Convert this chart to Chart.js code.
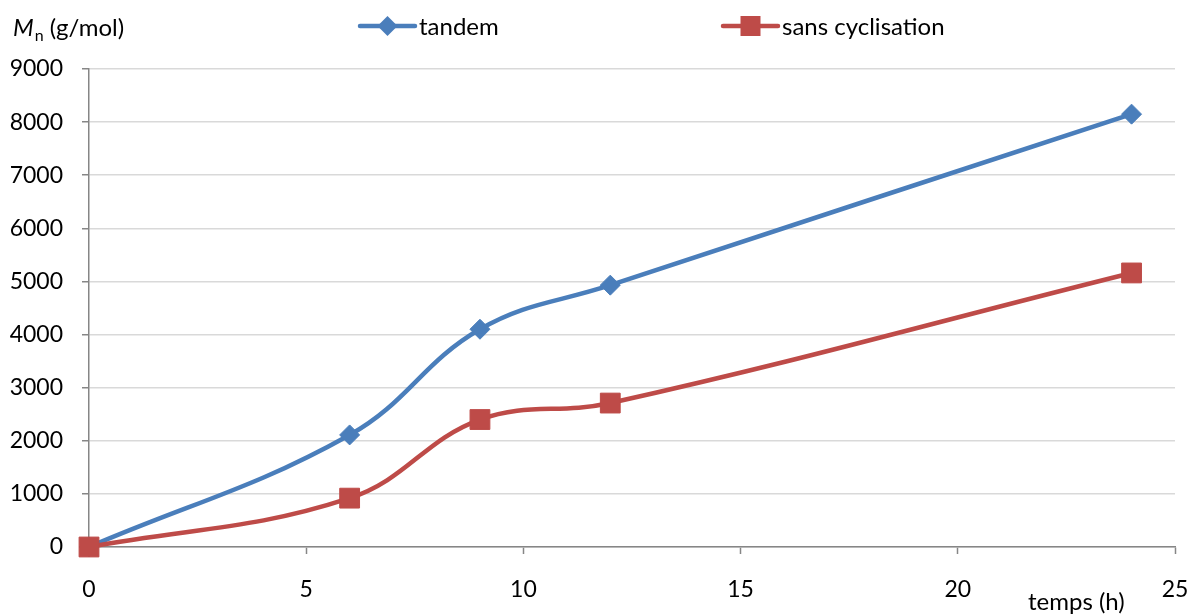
<!DOCTYPE html>
<html>
<head>
<meta charset="utf-8">
<script src="https://cdn.jsdelivr.net/npm/chart.js@4/dist/chart.umd.min.js"></script>
<style>
  html, body { margin: 0; padding: 0; background: #fff; overflow: hidden; }
  #wrap { width: 1193px; height: 615px; position: relative; }
  canvas { display: block; }
</style>
</head>
<body>
<div id="wrap"><canvas id="mnChart"></canvas></div>
<script>
const hours = [0, 6, 9, 12, 24];
const tandem = [0, 2110, 4100, 4930, 8150];
const sansCyclisation = [0, 920, 2400, 2710, 5160];
const seriesNames = ['tandem', 'sans cyclisation'];
const xAxisLabel = 'temps (h)';

const FONT = 'Lato, "Open Sans", sans-serif';
const BLUE = '#4a7ebb';
const RED = '#be4b48';

function toPoints(values) {
    return hours.map((h, i) => ({ x: h, y: values[i] }));
}

// legend, y title and x title are painted by hand
const chartText = {
    id: 'chartText',
    afterDraw(chart) {
        const ctx = chart.ctx;
        ctx.save();
        ctx.fillStyle = '#000';
        ctx.textBaseline = 'alphabetic';

        // M_n (g/mol)
        ctx.font = 'italic 24px ' + FONT;
        ctx.fillText('M', 13, 36);
        let x = 13 + ctx.measureText('M').width + 1;
        ctx.font = '16px ' + FONT;
        ctx.fillText('n', x, 41);
        x += ctx.measureText('n').width + 6;
        ctx.font = '24px ' + FONT;
        ctx.fillText('(g/mol)', x, 36);

        // legend
        const items = [
            { label: seriesNames[0], color: BLUE, x0: 360, x1: 415, style: 'diamond' },
            { label: seriesNames[1], color: RED, x0: 723, x1: 778, style: 'square' }
        ];
        const ly = 26;
        items.forEach(it => {
            ctx.strokeStyle = it.color;
            ctx.lineWidth = 4.5;
            ctx.lineCap = 'round';
            ctx.beginPath();
            ctx.moveTo(it.x0, ly);
            ctx.lineTo(it.x1, ly);
            ctx.stroke();
            const cx = (it.x0 + it.x1) / 2;
            ctx.fillStyle = it.color;
            ctx.beginPath();
            if (it.style === 'diamond') {
                ctx.moveTo(cx, ly - 10);
                ctx.lineTo(cx + 10, ly);
                ctx.lineTo(cx, ly + 10);
                ctx.lineTo(cx - 10, ly);
                ctx.closePath();
            } else {
                ctx.rect(cx - 10, ly - 10, 20, 20);
            }
            ctx.fill();
            ctx.fillStyle = '#000';
            ctx.font = '24px ' + FONT;
            ctx.textBaseline = 'middle';
            ctx.fillText(it.label, it.x1 + 4, ly + 1);
        });

        // x axis title
        ctx.textBaseline = 'middle';
        ctx.font = '24px ' + FONT;
        ctx.fillText(xAxisLabel, 1028, 602);
        ctx.restore();
    }
};

new Chart(document.getElementById('mnChart').getContext('2d'), {
    type: 'line',
    data: {
        datasets: [{
            label: seriesNames[0],
            data: toPoints(tandem),
            borderColor: BLUE,
            backgroundColor: BLUE,
            borderWidth: 4.5,
            pointStyle: 'rectRot',
            pointRadius: 10,
            pointHoverRadius: 10,
            pointBorderWidth: 1,
            tension: 0.4,
            clip: false,
            order: 1
        }, {
            label: seriesNames[1],
            data: toPoints(sansCyclisation),
            borderColor: RED,
            backgroundColor: RED,
            borderWidth: 4.5,
            pointStyle: 'rect',
            pointRadius: 14,
            pointHoverRadius: 14,
            pointBorderWidth: 1,
            tension: 0.4,
            clip: false,
            order: 0
        }]
    },
    options: {
        responsive: true,
        maintainAspectRatio: false,
        animation: false,
        layout: { padding: { top: 69, right: 18, left: 0, bottom: 0 } },
        plugins: { legend: { display: false }, tooltip: { enabled: false } },
        scales: {
            x: {
                type: 'linear',
                min: 0,
                max: 25,
                ticks: { stepSize: 5, color: '#000', font: { family: FONT, size: 23 }, padding: 22 },
                grid: { drawOnChartArea: false, tickLength: 7, tickColor: '#868686', tickWidth: 1.5 },
                border: { color: '#868686', width: 1.5 },
                afterFit(scale) {
                    // the tick padding would otherwise also widen the right margin
                    scale.height = 68;
                    scale.paddingRight = 18;
                    scale.paddingLeft = 0;
                }
            },
            y: {
                min: 0,
                max: 9000,
                ticks: {
                    stepSize: 1000,
                    color: '#000',
                    font: { family: FONT, size: 23 },
                    padding: 19,
                    callback: v => String(v)
                },
                grid: { color: '#d9d9d9', lineWidth: 1.5, tickLength: 7, tickColor: '#868686', tickWidth: 1.5 },
                border: { color: '#868686', width: 1.5 },
                afterFit(scale) { scale.width = 89; }
            }
        }
    },
    plugins: [chartText]
});
</script>
</body>
</html>
